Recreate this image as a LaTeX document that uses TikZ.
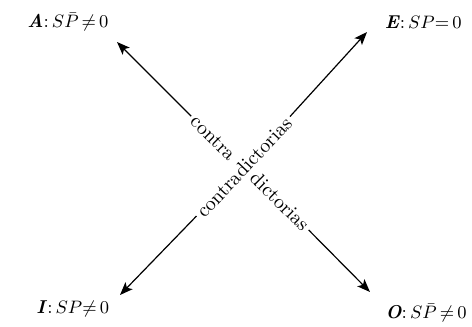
\documentclass[tikz,border=0pt]{standalone}
\usetikzlibrary{arrows.meta}
\begin{document}
\begin{tikzpicture}[x=0.5pt,y=-0.5pt,
  arr/.style={-{Stealth[length=6.5pt,width=5pt,inset=1.5pt]},line width=0.6pt},
  lbl/.style={font=\fontsize{9.3}{11}\selectfont,inner sep=0pt},
  word/.style={font=\normalsize,inner sep=1.5pt}]
\useasboundingbox (0,0) rectangle (472,327);
\coordinate (Atip) at (117,42);
\coordinate (Etip) at (367,32);
\coordinate (Itip) at (120,295);
\coordinate (Otip) at (370,292);
\node[lbl,anchor=west] (A) at (27,22) {\textbf{\textit{A}}:\,$S\bar{P}\,{\neq}\,0$};
\node[lbl,anchor=east] (E) at (462,22) {\textbf{\textit{E}}:\,$SP{=}\,0$};
\node[lbl,anchor=west] (I) at (36,309) {\textbf{\textit{I}}:\,$SP{\neq}\,0$};
\node[lbl,anchor=east] (O) at (467,313) {\textbf{\textit{O}}:\,$S\bar{P}\,{\neq}\,0$};
\node[word,rotate=46.8] (cd) at (244,167) {contradictorias};
\node[word,rotate=-44.7] (contra) at (213,138) {contra};
\node[word,rotate=-44.7] (dict) at (280,201) {dictorias};
\draw[arr] (contra) -- (Atip);
\draw[arr] (dict) -- (Otip);
\draw[arr] (cd) -- (Etip);
\draw[arr] (cd) -- (Itip);
\end{tikzpicture}
\end{document}
